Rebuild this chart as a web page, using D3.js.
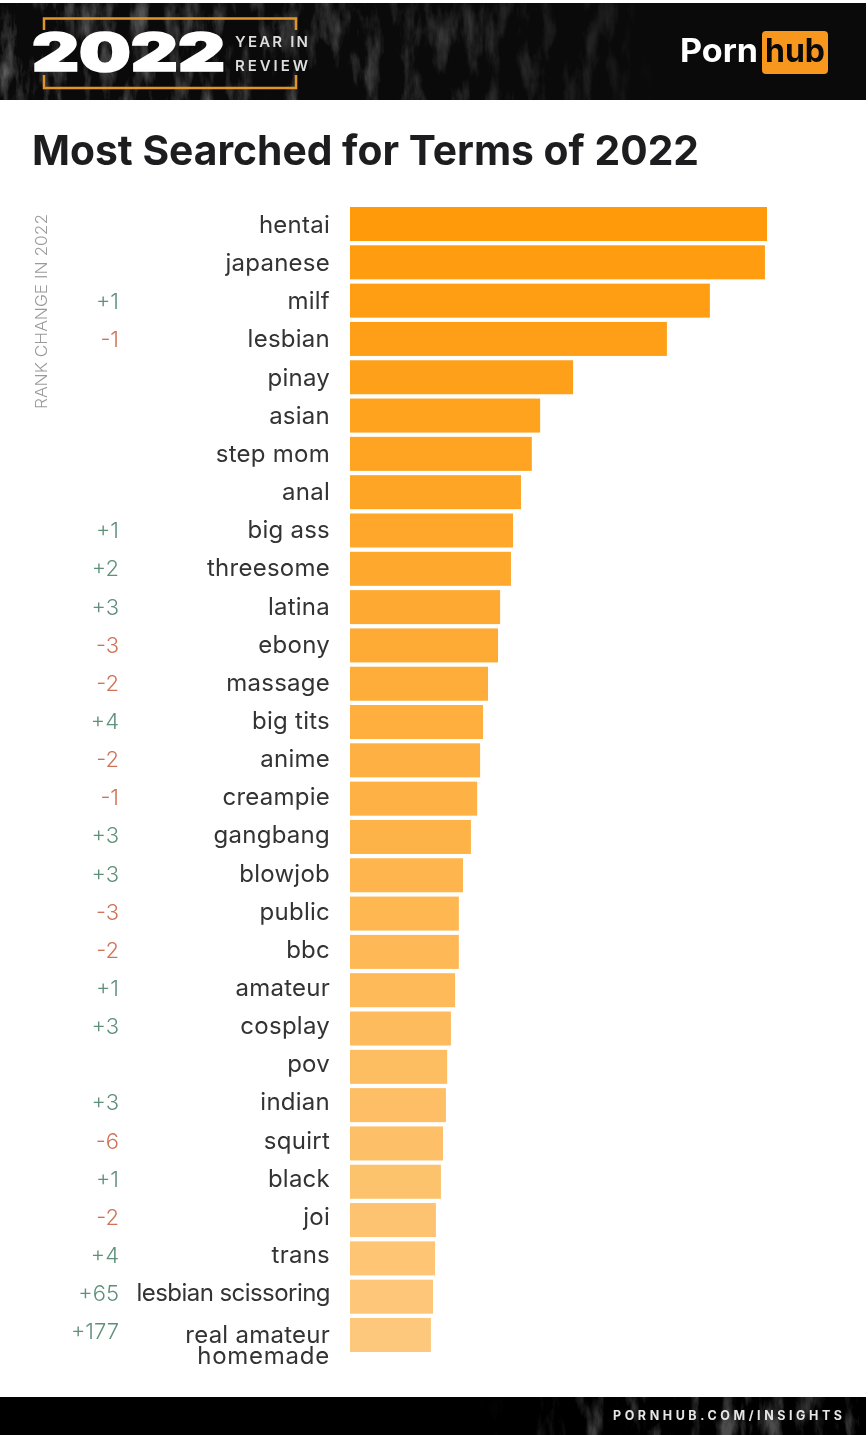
<!DOCTYPE html>
<html>
<head>
<meta charset="utf-8">
<script src="https://cdn.jsdelivr.net/npm/d3@7"></script>
<style>
  html, body { margin: 0; padding: 0; background: #fff; }
  svg { display: block; filter: blur(0.45px); }
  text { font-family: Inter, "Open Sans", sans-serif; }
</style>
</head>
<body>
<svg width="868" height="1435"></svg>
<script>
// bar lengths (relative search volume, hentai = 100)
var terms = ["hentai","japanese","milf","lesbian","pinay","asian","step mom","anal","big ass","threesome",
  "latina","ebony","massage","big tits","anime","creampie","gangbang","blowjob","public","bbc",
  "amateur","cosplay","pov","indian","squirt","black","joi","trans","lesbian scissoring","real amateur homemade"];
var values = [100,99.5,86.3,76,53.5,45.6,43.6,41,39.1,38.6,
  36,35.5,33.1,31.9,31.2,30.5,29,27.1,26.1,26.1,
  25.2,24.2,23.3,23,22.3,21.8,20.6,20.4,19.9,19.4];
var rankChange = [0,0,1,-1,0,0,0,0,1,2,
  3,-3,-2,4,-2,-1,3,3,-3,-2,
  1,3,0,3,-6,1,-2,4,65,177];

var svg = d3.select("svg");
var width = 868, height = 1435;
var defs = svg.append("defs");

// streaky grunge for the dark bands
var grunge = defs.append("filter").attr("id", "grunge")
  .attr("x", 0).attr("y", 0).attr("width", 1).attr("height", 1);
grunge.append("feTurbulence").attr("type", "fractalNoise")
  .attr("baseFrequency", "0.06 0.018").attr("numOctaves", 5).attr("seed", 23);
grunge.append("feColorMatrix").attr("values", "0 0 0 0 1  0 0 0 0 1  0 0 0 0 1  3 0 0 0 -1.45");

var fadeHead = defs.append("linearGradient").attr("id", "fadeHead");
fadeHead.append("stop").attr("offset", 0).attr("stop-color", "#fff").attr("stop-opacity", 0.34);
fadeHead.append("stop").attr("offset", 0.36).attr("stop-color", "#fff").attr("stop-opacity", 0.24);
fadeHead.append("stop").attr("offset", 0.7).attr("stop-color", "#fff").attr("stop-opacity", 0.09);
fadeHead.append("stop").attr("offset", 0.76).attr("stop-color", "#fff").attr("stop-opacity", 0);
var fadeFoot = defs.append("linearGradient").attr("id", "fadeFoot");
fadeFoot.append("stop").attr("offset", 0.55).attr("stop-color", "#fff").attr("stop-opacity", 0);
fadeFoot.append("stop").attr("offset", 0.72).attr("stop-color", "#fff").attr("stop-opacity", 0.3);
fadeFoot.append("stop").attr("offset", 1).attr("stop-color", "#fff").attr("stop-opacity", 0.3);
defs.append("mask").attr("id", "maskHead").append("rect")
  .attr("x", 0).attr("y", 3).attr("width", 866).attr("height", 97).attr("fill", "url(#fadeHead)");
defs.append("mask").attr("id", "maskFoot").append("rect")
  .attr("x", 0).attr("y", 1397).attr("width", 866).attr("height", 38).attr("fill", "url(#fadeFoot)");

// header
svg.append("rect").attr("x", 0).attr("y", 3).attr("width", 866).attr("height", 97).attr("fill", "#0a0a0a");
svg.append("g").attr("mask", "url(#maskHead)").append("rect")
  .attr("x", 0).attr("y", 3).attr("width", 866).attr("height", 97).attr("filter", "url(#grunge)");

var frame = svg.append("g").attr("stroke", "#e0952b").attr("stroke-width", 2.5).attr("fill", "none");
frame.append("path").attr("d", "M44,30V18.5H296V30");
frame.append("path").attr("d", "M44,75V88H296V75");

svg.append("text").attr("x", 32).attr("y", 71)
  .attr("font-size", 52).attr("font-weight", 900).attr("fill", "#fff")
  .attr("stroke", "#fff").attr("stroke-width", 1.6)
  .attr("textLength", 193).attr("lengthAdjust", "spacingAndGlyphs")
  .text("2022");
svg.append("g").selectAll("text").data(["YEAR IN", "REVIEW"]).join("text")
  .attr("x", 235).attr("y", (d, i) => 47 + i * 23.5)
  .attr("font-size", 15).attr("font-weight", 600).attr("fill", "#ddd")
  .attr("textLength", 73).attr("lengthAdjust", "spacing")
  .text(d => d);

svg.append("text").attr("x", 680).attr("y", 62)
  .attr("font-size", 32).attr("font-weight", 700).attr("fill", "#fff")
  .attr("textLength", 78).attr("lengthAdjust", "spacingAndGlyphs")
  .text("Porn");
svg.append("rect").attr("x", 762).attr("y", 31).attr("width", 66).attr("height", 43).attr("rx", 4).attr("fill", "#f7971d");
svg.append("text").attr("x", 765).attr("y", 62)
  .attr("font-size", 32).attr("font-weight", 700).attr("fill", "#0a0a0a")
  .attr("textLength", 60).attr("lengthAdjust", "spacingAndGlyphs")
  .text("hub");

// title
svg.append("text").attr("x", 32).attr("y", 165)
  .attr("font-size", 41).attr("font-weight", 700).attr("fill", "#1d1d1f")
  .attr("textLength", 667).attr("lengthAdjust", "spacingAndGlyphs")
  .text("Most Searched for Terms of 2022");

// chart
var x = d3.scaleLinear().domain([0, 100]).range([350, 767]);
var y = d3.scaleBand().domain(terms).range([207, 1352]).paddingInner(0.112);
// the text rows in the picture run on a slightly shorter step than the bars
var yText = d3.scalePoint().domain(terms).range([225, 1331.4]);
var color = d3.scaleLinear().domain([0, terms.length - 1]).range(["#ff9a0b", "#fdc87c"]);

svg.append("g").selectAll("rect")
  .data(terms)
  .join("rect")
  .attr("x", x(0))
  .attr("y", d => y(d))
  .attr("width", (d, i) => x(values[i]) - x(0))
  .attr("height", y.bandwidth())
  .attr("fill", (d, i) => color(i));

var labels = svg.append("g").attr("text-anchor", "end").attr("fill", "#333").attr("font-size", 24)
  .attr("font-weight", 400).attr("letter-spacing", 0.25);
labels.selectAll("text")
  .data(terms.slice(0, -1))
  .join("text")
  .attr("x", 330)
  .attr("y", d => yText(d) + 8)
  .attr("letter-spacing", d => d === "lesbian scissoring" ? -0.55 : null)
  .text(d => d);
var lastTerm = terms[terms.length - 1];
var lastLabel = labels.append("text").attr("x", 330).attr("y", y(lastTerm) + 25);
lastLabel.append("tspan").attr("x", 330).text("real amateur");
lastLabel.append("tspan").attr("x", 330).attr("dy", 21).attr("letter-spacing", 0.75).text("homemade");

function changeText(c) { return c > 0 ? "+" + c : String(c); }
svg.append("g").attr("text-anchor", "end").attr("font-size", 22).attr("font-weight", 300)
  .selectAll("text")
  .data(terms)
  .join("text")
  .filter((d, i) => rankChange[i] !== 0)
  .attr("x", 119)
  .attr("y", d => yText(d) + 8)
  .attr("fill", d => rankChange[terms.indexOf(d)] > 0 ? "#5f9079" : "#cf7358")
  .text(d => changeText(rankChange[terms.indexOf(d)]));

svg.append("text")
  .attr("transform", "translate(47,409) rotate(-90)")
  .attr("font-size", 15.5).attr("font-weight", 300).attr("fill", "#9a9a9a")
  .attr("textLength", 195).attr("lengthAdjust", "spacingAndGlyphs")
  .text("RANK CHANGE IN 2022");

// footer
svg.append("rect").attr("x", 0).attr("y", 1397).attr("width", 866).attr("height", 38).attr("fill", "#000");
svg.append("g").attr("mask", "url(#maskFoot)").append("rect")
  .attr("x", 0).attr("y", 1397).attr("width", 866).attr("height", 38).attr("filter", "url(#grunge)");
svg.append("text").attr("x", 613).attr("y", 1420)
  .attr("font-size", 12.5).attr("font-weight", 700).attr("fill", "#e6e6e6")
  .attr("textLength", 229).attr("lengthAdjust", "spacing")
  .text("PORNHUB.COM/INSIGHTS");
</script>
</body>
</html>
